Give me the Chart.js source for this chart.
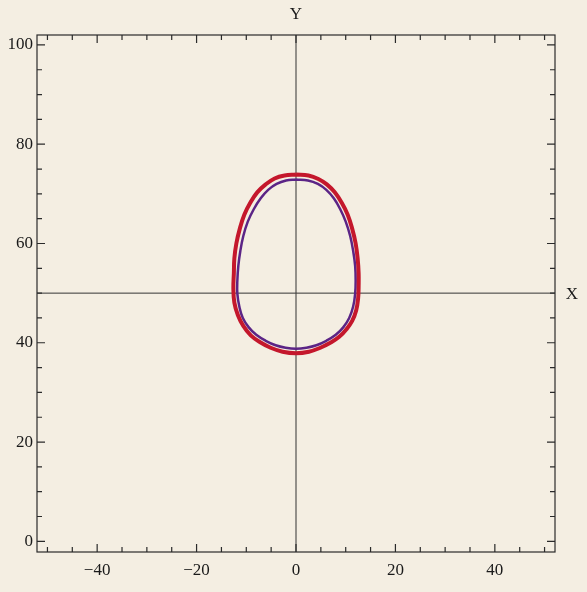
<!DOCTYPE html>
<html>
<head>
<meta charset="utf-8">
<script src="https://cdn.jsdelivr.net/npm/chart.js@4.4.0/dist/chart.umd.min.js"></script>
<style>
  html, body { margin: 0; padding: 0; background: #f4eee2; }
  #wrap { width: 587px; height: 592px; position: relative; }
</style>
</head>
<body>
<div id="wrap"><canvas id="c" width="587" height="592"></canvas></div>
<script>
// Outer contour (red), traced clockwise from the top
const outerX = [0, 2.5, 4.5, 6.2, 7.8, 9.2, 10.4, 11.3, 12.0, 12.4, 12.6, 12.6, 12.5, 12.1, 11.3, 10.2, 8.7, 6.9, 4.9, 2.6, 0,
                -2.7, -5.1, -7.2, -9.1, -10.6, -11.7, -12.4, -12.6, -12.5, -12.4, -12.0, -11.3, -10.4, -9.2, -7.8, -6.1, -4.3, -2.3, 0];
const outerY = [73.9, 73.7, 73.0, 71.9, 70.3, 68.2, 65.8, 63.0, 60.0, 57.0, 54.0, 51.5, 49.0, 46.5, 44.4, 42.8, 41.2, 40.0, 39.0, 38.2, 37.9,
                38.2, 39.0, 40.1, 41.5, 43.4, 45.6, 48.1, 51.0, 54.0, 57.0, 60.0, 63.0, 65.8, 68.2, 70.3, 71.9, 73.1, 73.7, 73.9];
// Inner contour (purple), traced the same way
const innerX = [0, 2.4, 4.4, 6.1, 7.6, 8.9, 10.0, 10.9, 11.5, 11.9, 12.0, 11.9, 11.5, 10.7, 9.5, 8.0, 6.1, 4.1, 2.1, 0,
                -2.1, -4.1, -6.1, -8.0, -9.5, -10.7, -11.4, -11.8, -11.8, -11.6, -11.2, -10.6, -9.7, -8.5, -7.1, -5.6, -3.9, -2.0, 0];
const innerY = [72.9, 72.7, 72.0, 70.8, 69.1, 66.9, 64.4, 61.5, 58.5, 55.5, 52.5, 49.9, 47.3, 45.0, 43.1, 41.6, 40.4, 39.5, 39.0, 38.8,
                39.0, 39.5, 40.4, 41.6, 43.1, 45.0, 47.3, 49.9, 52.5, 55.5, 58.5, 61.5, 64.4, 66.9, 69.1, 70.8, 72.0, 72.7, 72.9];

const xTicks = [-40, -20, 0, 20, 40];
const yTicks = [0, 20, 40, 60, 80, 100];
const xRange = [-52.1, 52.1];
const yRange = [-2.15, 102.0];
const axisCross = { x: 0, y: 50 };

const toPts = (xs, ys) => xs.map((x, i) => ({ x, y: ys[i] }));
const serif = '"Liberation Serif", "DejaVu Serif", serif';

const frame = {
  id: 'frame',
  beforeDraw(chart) {
    const ctx = chart.ctx;
    ctx.save();
    ctx.fillStyle = '#f4eee2';
    ctx.fillRect(0, 0, chart.width, chart.height);
    ctx.restore();
  },
  beforeDatasetsDraw(chart) {
    const { ctx, chartArea: a, scales: { x, y } } = chart;
    ctx.save();
    ctx.strokeStyle = '#2a2a2a';
    ctx.lineWidth = 1.2;
    ctx.strokeRect(a.left, a.top, a.right - a.left, a.bottom - a.top);
    // inward ticks every 5 units, longer on labelled values
    ctx.beginPath();
    for (let v = -50; v <= 50; v += 5) {
      const px = x.getPixelForValue(v);
      const len = v % 20 === 0 ? 8 : 5;
      ctx.moveTo(px, a.bottom); ctx.lineTo(px, a.bottom - len);
      ctx.moveTo(px, a.top); ctx.lineTo(px, a.top + len);
    }
    for (let v = 0; v <= 100; v += 5) {
      const py = y.getPixelForValue(v);
      const len = v % 20 === 0 ? 8 : 5;
      ctx.moveTo(a.left, py); ctx.lineTo(a.left + len, py);
      ctx.moveTo(a.right, py); ctx.lineTo(a.right - len, py);
    }
    ctx.stroke();
    // crossing axes
    ctx.lineWidth = 1;
    ctx.strokeStyle = '#333';
    ctx.beginPath();
    const cx = x.getPixelForValue(axisCross.x);
    const cy = y.getPixelForValue(axisCross.y);
    ctx.moveTo(cx, a.top); ctx.lineTo(cx, a.bottom);
    ctx.moveTo(a.left, cy); ctx.lineTo(a.right, cy);
    ctx.stroke();
    // axis names
    ctx.fillStyle = '#1a1a1a';
    ctx.font = '17px ' + serif;
    ctx.textAlign = 'center';
    ctx.textBaseline = 'middle';
    ctx.fillText('Y', cx, 15);
    ctx.fillText('X', 572, cy + 1);
    ctx.restore();
  }
};

new Chart(document.getElementById('c'), {
  type: 'scatter',
  data: {
    datasets: [
      {
        data: toPts(outerX, outerY),
        showLine: true,
        borderColor: '#c4172c',
        borderWidth: 4,
        pointRadius: 0,
        tension: 0.4,
        fill: false
      },
      {
        data: toPts(innerX, innerY),
        showLine: true,
        borderColor: '#5b2486',
        borderWidth: 2.5,
        pointRadius: 0,
        tension: 0.4,
        fill: false
      }
    ]
  },
  options: {
    responsive: false,
    animation: false,
    layout: { padding: { top: 35, right: 32, left: 0, bottom: 0 } },
    plugins: { legend: { display: false }, tooltip: { enabled: false } },
    scales: {
      x: {
        type: 'linear',
        min: xRange[0], max: xRange[1],
        grid: { display: false, drawTicks: false },
        border: { display: false },
        afterBuildTicks: s => { s.ticks = xTicks.map(v => ({ value: v })); },
        afterFit: s => { s.height = 40; },
        ticks: {
          padding: 8,
          color: '#1a1a1a',
          font: { family: serif, size: 17 },
          callback: v => (v < 0 ? '\u2212' + Math.abs(v) : String(v))
        }
      },
      y: {
        type: 'linear',
        min: yRange[0], max: yRange[1],
        grid: { display: false, drawTicks: false },
        border: { display: false },
        afterBuildTicks: s => { s.ticks = yTicks.map(v => ({ value: v })); },
        afterFit: s => { s.width = 37; },
        ticks: {
          padding: 4,
          color: '#1a1a1a',
          font: { family: serif, size: 17 }
        }
      }
    }
  },
  plugins: [frame]
});
</script>
</body>
</html>
